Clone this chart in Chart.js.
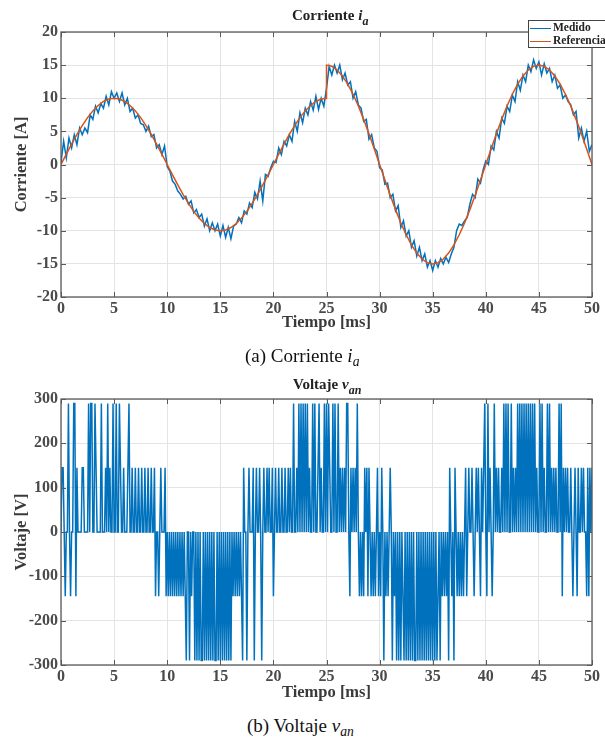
<!DOCTYPE html>
<html lang="es">
<head>
<meta charset="UTF-8">
<title>Corriente i_a y voltaje v_an</title>
<script src="https://cdn.jsdelivr.net/npm/chart.js@4"></script>
<style>
  body { margin: 0; background: #fff; overflow: hidden; }
  #hoja { position: relative; width: 605px; height: 740px; overflow: hidden; font-family: 'Liberation Serif', 'Times New Roman', serif; }
  canvas { position: absolute; left: 0; }
  .titulo { position: absolute; font-weight: bold; font-size: 15px; line-height: 15px; color: #222; white-space: nowrap; }
  .titulo sub { font-size: 80%; vertical-align: -5px; }
  .pie { position: absolute; font-size: 19px; line-height: 19px; color: #111; white-space: nowrap; }
  .pie sub { font-size: 72%; vertical-align: -4px; }
  #leyenda { position: absolute; left: 528px; top: 20px; width: 90px; height: 26px; border: 1px solid #444; background: #fff;
             font-weight: bold; font-size: 11.5px; color: #222; white-space: nowrap; }
  #leyenda div { position: absolute; left: 1px; height: 13px; line-height: 13px; }
  #leyenda span.linea { display: inline-block; width: 21px; height: 0; vertical-align: middle; margin-right: 2px; }
</style>
</head>
<body>
<div id="hoja">
  <canvas id="grafCorriente" width="605" height="335" style="top:0"></canvas>
  <canvas id="grafVoltaje" width="605" height="340" style="top:365px"></canvas>

  <div class="titulo" style="left:292px; top:8px">Corriente <i>i<sub>a</sub></i></div>
  <div id="leyenda">
    <div style="top:0px"><span class="linea" style="border-top:1.5px solid #0072BD"></span>Medido</div>
    <div style="top:13px"><span class="linea" style="border-top:1.5px solid #D95319"></span>Referencia</div>
  </div>
  <div class="pie" style="left:245px; top:346px">(a) Corriente <i>i<sub>a</sub></i></div>

  <div class="titulo" style="left:293px; top:377px">Voltaje <i>v<sub>an</sub></i></div>
  <div class="pie" style="left:247px; top:716px">(b) Voltaje <i>v<sub>an</sub></i></div>
</div>

<script>
  // --- datos ---
  // corriente medida, una muestra cada 0.25 ms (0 .. 50 ms)
  const corrienteMedida = [
    0.3, 3.5, 1.0, 4.0, 2.5, 4.5, 3.0, 5.5, 4.5, 5.5, 4.8, 7.5, 6.8, 8.8, 7.8, 9.2, 8.5, 10.3, 9.0, 11.0,
    10.0, 10.8, 9.5, 10.8, 9.0, 10.0, 8.0, 8.5, 7.0, 7.5, 6.2, 6.0, 5.0, 5.8, 4.2, 4.5, 2.5, 3.0, 1.5, 2.8,
    -0.3, -1.0, -2.5, -3.0, -4.0, -4.5, -5.2, -4.8, -6.0, -5.5, -7.3, -6.8, -8.0, -7.5, -9.3, -8.2, -10.0, -8.8, -10.0, -9.0,
    -10.8, -9.2, -11.0, -9.5, -11.2, -9.3, -9.0, -8.0, -8.8, -7.0, -7.5, -5.8, -6.5, -4.2, -5.2, -2.5, -5.5, -1.5, -1.8, -0.5,
    0.5, 0.3, 2.5, 1.5, 3.5, 2.8, 4.5, 3.5, 6.5, 5.0, 7.8, 6.3, 8.5, 7.5, 9.5, 8.2, 10.3, 8.3, 10.0, 8.8,
    11.5, 14.8, 13.5, 15.0, 13.8, 15.0, 12.8, 13.8, 12.0, 12.5, 10.0, 11.0, 9.0, 8.5, 6.5, 6.8, 3.8, 4.5, 2.5, 2.0,
    -0.5, -0.8, -3.0, -2.8, -5.0, -4.5, -7.0, -6.2, -9.5, -8.5, -10.8, -10.0, -12.5, -11.5, -13.8, -12.5, -14.5, -13.5, -15.5, -14.5,
    -16.0, -14.5, -15.5, -14.2, -15.0, -14.0, -14.8, -13.5, -12.5, -10.0, -9.0, -9.2, -8.5, -8.0, -6.0, -4.5, -5.0, -2.2, -2.8, -0.8,
    0.5, 0.0, 2.8, 2.2, 5.0, 4.0, 7.0, 6.2, 8.8, 8.0, 10.5, 9.5, 12.5, 11.2, 13.5, 12.5, 15.0, 14.0, 15.8, 14.5,
    15.5, 13.5, 15.2, 13.8, 14.5, 12.5, 13.5, 11.5, 12.0, 10.0, 10.5, 9.5, 9.0, 7.5, 8.0, 4.0, 5.5, 3.5, 5.0, 2.0,
    3.0
  ];

  // referencia cada 0.5 ms: tramo 0..25 ms (10 A) y tramo 25..50 ms (15 A)
  const referencia1 = [
    0, 1.56, 3.09, 4.54, 5.88, 7.07, 8.09, 8.91, 9.51, 9.88, 10, 9.88, 9.51, 8.91, 8.09, 7.07, 5.88, 4.54, 3.09, 1.56, 0,
    -1.56, -3.09, -4.54, -5.88, -7.07, -8.09, -8.91, -9.51, -9.88, -10, -9.88, -9.51, -8.91, -8.09, -7.07, -5.88, -4.54, -3.09, -1.56, 0,
    1.56, 3.09, 4.54, 5.88, 7.07, 8.09, 8.91, 9.51, 9.88, 10
  ];
  const referencia2 = [
    15, 14.82, 14.27, 13.37, 12.14, 10.61, 8.82, 6.81, 4.64, 2.35, 0,
    -2.35, -4.64, -6.81, -8.82, -10.61, -12.14, -13.37, -14.27, -14.82, -15, -14.82, -14.27, -13.37, -12.14, -10.61, -8.82, -6.81, -4.64, -2.35, 0,
    2.35, 4.64, 6.81, 8.82, 10.61, 12.14, 13.37, 14.27, 14.82, 15, 14.82, 14.27, 13.37, 12.14, 10.61, 8.82, 6.81, 4.64, 2.35, 0
  ];

  // voltaje v_an, una muestra cada 0.1 ms (una fila por ms)
  const voltaje = [
    0,145,145,0,-145,0,0,290,0,-145,
    0,0,290,290,-145,145,0,0,0,0,
    145,145,0,0,0,0,290,0,290,290,
    0,0,290,145,0,0,0,0,290,0,
    0,0,145,0,290,0,145,0,0,290,
    0,0,290,0,0,290,145,0,0,145,
    0,0,0,145,290,0,0,145,0,0,
    145,0,0,145,0,0,145,0,0,145,
    0,0,145,0,0,145,0,0,145,-145,
    0,0,-145,0,145,0,0,0,145,-145,
    0,-145,0,-145,0,-145,0,-145,0,-145,
    0,-145,0,-145,0,-145,0,-145,-290,0,
    0,-290,0,-145,0,0,-290,0,-290,0,
    -290,0,-290,-290,0,-290,0,-290,0,-290,
    0,-290,0,-290,0,-290,-290,0,-290,0,
    -290,0,-290,0,-290,0,-290,0,-290,0,
    -290,0,-145,0,-145,0,-145,0,-145,0,
    -145,-290,145,0,0,-290,0,145,0,0,
    0,145,-290,0,145,0,0,145,0,-290,
    0,145,0,0,145,0,145,0,0,145,
    -145,0,145,0,0,145,0,0,145,0,
    0,145,0,0,145,0,145,0,0,290,
    0,0,145,0,290,0,290,0,290,0,
    290,0,290,0,145,0,0,290,0,290,
    0,0,145,290,0,145,0,0,290,0,
    290,0,290,145,0,0,290,0,290,0,
    0,290,0,145,0,145,0,145,0,290,
    290,0,-145,145,0,145,0,145,0,290,
    0,-145,0,-145,0,-145,145,0,145,-145,
    145,0,-145,0,-145,0,-145,0,145,-145,
    0,-145,145,0,-290,0,-145,0,-145,0,
    145,0,-290,0,-145,0,-290,0,-290,0,
    -290,0,-145,-290,0,-290,0,-290,0,-290,
    0,-290,0,-290,-290,0,-290,0,-290,0,
    -290,0,-290,0,-290,0,-290,0,-290,0,
    -290,0,-290,0,-290,-145,0,-290,0,-145,
    0,-145,0,-145,0,-290,145,0,-145,0,
    -290,145,0,-145,0,-145,0,-145,0,-145,
    0,145,-145,0,145,0,0,145,0,-145,
    0,145,0,145,0,-145,145,0,145,290,
    0,-145,290,0,145,0,-145,0,290,0,
    145,0,145,0,0,145,0,290,0,290,
    0,290,0,0,290,0,145,0,145,0,
    290,0,290,0,290,0,290,0,290,0,
    290,0,290,0,290,0,290,0,145,0,
    0,290,0,290,0,145,0,0,290,0,
    290,0,145,0,145,0,145,0,0,290,
    0,290,-145,145,0,145,0,145,0,0,
    145,0,-145,0,145,0,-145,145,0,0,
    145,0,145,0,0,-145,145,-145,145,0,
    145
  ];

  // ejes de tiempo (ms) para cada serie
  const tCorriente = corrienteMedida.map((_, i) => i * 0.25);
  const tRef1 = referencia1.map((_, i) => i * 0.5);
  const tRef2 = referencia2.map((_, i) => 25 + i * 0.5);
  const tVoltaje = voltaje.map((_, i) => i * 0.1);

  const pares = (xs, ys) => xs.map((x, i) => ({ x: x, y: ys[i] }));

  const fuenteSerif = "'Liberation Serif', 'Times New Roman', serif";
  const grisTexto = '#4a4a4a';

  // marco del eje con marcas hacia adentro, estilo matlab
  const marcoEjes = {
    id: 'marcoEjes',
    afterDatasetsDraw(chart) {
      const { ctx, chartArea: a, scales: { x, y } } = chart;
      ctx.save();
      ctx.strokeStyle = '#5a5a5a';
      ctx.lineWidth = 1;
      ctx.beginPath();
      x.ticks.forEach(t => {
        const px = Math.round(x.getPixelForValue(t.value)) + 0.5;
        ctx.moveTo(px, a.bottom); ctx.lineTo(px, a.bottom - 5);
        ctx.moveTo(px, a.top); ctx.lineTo(px, a.top + 5);
      });
      y.ticks.forEach(t => {
        const py = Math.round(y.getPixelForValue(t.value)) + 0.5;
        ctx.moveTo(a.left, py); ctx.lineTo(a.left + 5, py);
        ctx.moveTo(a.right, py); ctx.lineTo(a.right - 5, py);
      });
      ctx.stroke();
      ctx.lineWidth = 1.3;
      ctx.strokeRect(a.left, a.top, a.right - a.left, a.bottom - a.top);
      ctx.restore();
    }
  };

  function ejes(yMin, yMax, yPaso, yTitulo, altoEjeX) {
    const fuenteTicks = { family: fuenteSerif, size: 16, weight: 'bold' };
    const fuenteTitulo = { family: fuenteSerif, size: 16.5, weight: 'bold' };
    const rejilla = { color: '#e4e4e4', lineWidth: 1, drawTicks: false };
    return {
      x: {
        type: 'linear', min: 0, max: 50,
        ticks: { stepSize: 5, color: grisTexto, font: fuenteTicks, padding: 2, maxRotation: 0 },
        grid: rejilla,
        border: { display: false },
        title: { display: true, text: 'Tiempo [ms]', color: '#3a3a3a', font: fuenteTitulo, padding: { top: 0, bottom: 2 } },
        afterFit(s) { s.height = altoEjeX; }
      },
      y: {
        min: yMin, max: yMax,
        ticks: { stepSize: yPaso, color: grisTexto, font: fuenteTicks, padding: 3 },
        grid: rejilla,
        border: { display: false },
        title: { display: true, text: yTitulo, color: '#3a3a3a', font: fuenteTitulo, padding: { top: 12, bottom: 0 } },
        afterFit(s) { s.width = 61; }
      }
    };
  }

  const comunes = {
    responsive: false,
    animation: false,
    plugins: { legend: { display: false }, tooltip: { enabled: false } },
    elements: { point: { radius: 0 }, line: { tension: 0 } }
  };

  new Chart(document.getElementById('grafCorriente'), {
    type: 'line',
    data: {
      datasets: [
        { label: 'Medido', data: pares(tCorriente, corrienteMedida), borderColor: '#0072BD', borderWidth: 1.5, order: 1 },
        { label: 'Referencia', data: pares(tRef1.concat(tRef2), referencia1.concat(referencia2)), borderColor: '#D95319', borderWidth: 1.5, order: 0 }
      ]
    },
    options: Object.assign({}, comunes, {
      layout: { padding: { top: 32, right: 13, left: 0, bottom: 0 } },
      scales: ejes(-20, 20, 5, 'Corriente [A]', 38)
    }),
    plugins: [marcoEjes]
  });

  new Chart(document.getElementById('grafVoltaje'), {
    type: 'line',
    data: {
      datasets: [
        { label: 'v_an', data: pares(tVoltaje, voltaje), borderColor: '#0072BD', borderWidth: 1.5 }
      ]
    },
    options: Object.assign({}, comunes, {
      layout: { padding: { top: 34, right: 13, left: 0, bottom: 0 } },
      scales: ejes(-300, 300, 100, 'Voltaje [V]', 40)
    }),
    plugins: [marcoEjes]
  });
</script>
</body>
</html>
